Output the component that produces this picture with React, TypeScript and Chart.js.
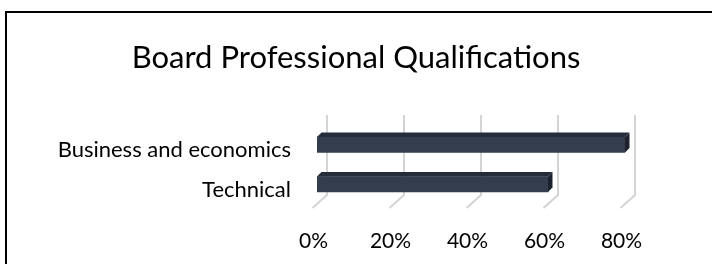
import React, { useEffect, useRef } from "react";
import { Chart, registerables } from "chart.js";

Chart.register(...registerables);

const titleText = "Board Professional Qualifications";
const categories = ["Business and economics", "Technical"];
const values = [80, 60];
const tickValues = [0, 20, 40, 60, 80];

const FONT = "Lato";

const depthPlugin = {
  id: "depth3d",
  beforeDraw(chart: any) {
    const ctx = chart.ctx;
    ctx.save();
    ctx.fillStyle = "#ffffff";
    ctx.fillRect(0, 0, chart.width, chart.height);
    ctx.strokeStyle = "#000000";
    ctx.lineWidth = 2;
    ctx.strokeRect(6, 12, chart.width + 20, chart.height + 20);
    ctx.fillStyle = "#000000";
    ctx.font = `31px ${FONT}`;
    ctx.textAlign = "center";
    ctx.textBaseline = "alphabetic";
    ctx.fillText(titleText, 356, 67.5);
    ctx.restore();
  },
  beforeDatasetsDraw(chart: any) {
    const ctx = chart.ctx;
    const xs = chart.scales.x;
    const area = chart.chartArea;
    ctx.save();
    ctx.strokeStyle = "#d4d4d4";
    ctx.lineWidth = 2;
    tickValues.forEach((v) => {
      const X = xs.getPixelForValue(v);
      ctx.beginPath();
      ctx.moveTo(X + 10, area.top - 10);
      ctx.lineTo(X + 10, area.bottom - 9);
      ctx.lineTo(X - 4.5, area.bottom + 4);
      ctx.stroke();
    });
    ctx.restore();
  },
  afterDatasetsDraw(chart: any) {
    const ctx = chart.ctx;
    const meta = chart.getDatasetMeta(0);
    const d = 4.5;
    ctx.save();
    meta.data.forEach((el: any) => {
      const { x, y, base, height } = el.getProps(["x", "y", "base", "height"], true);
      const top = y - height / 2;
      const bottom = y + height / 2;
      ctx.fillStyle = "#252d3a";
      ctx.beginPath();
      ctx.moveTo(base, top);
      ctx.lineTo(base + d, top - d);
      ctx.lineTo(x + d, top - d);
      ctx.lineTo(x, top);
      ctx.closePath();
      ctx.fill();
      ctx.fillStyle = "#1d232e";
      ctx.beginPath();
      ctx.moveTo(x, top);
      ctx.lineTo(x + d, top - d);
      ctx.lineTo(x + d, bottom - d);
      ctx.lineTo(x, bottom);
      ctx.closePath();
      ctx.fill();
    });
    ctx.restore();
  },
};

export default function App() {
  const ref = useRef<HTMLCanvasElement | null>(null);
  useEffect(() => {
    document.body.style.margin = "0";
    const canvas = ref.current!;
    const chart = new Chart(canvas, {
      type: "bar",
      data: {
        labels: categories,
        datasets: [
          {
            data: values,
            backgroundColor: "#333d4e",
            borderWidth: 0,
            barThickness: 15.5,
          },
        ],
      },
      options: {
        indexAxis: "y",
        animation: false,
        responsive: false,
        maintainAspectRatio: false,
        devicePixelRatio: 1,
        layout: { padding: { top: 125, right: 87, left: 0, bottom: 0 } },
        plugins: {
          legend: { display: false },
          title: { display: false },
          tooltip: { enabled: false },
        },
        scales: {
          x: {
            min: 0,
            max: 80,
            grid: { display: false, drawTicks: false },
            border: { display: false },
            ticks: {
              stepSize: 20,
              callback: (v: any) => v + "%",
              font: { family: FONT, size: 21 },
              color: "#000000",
              padding: 25,
              labelOffset: -3.5,
              maxRotation: 0,
            },
            afterFit: (s: any) => {
              s.height = 60;
            },
          },
          y: {
            grid: { display: false, drawTicks: false },
            border: { display: false },
            ticks: {
              font: { family: FONT, size: 22 },
              color: "#000000",
              padding: 26,
              labelOffset: 5.5,
            },
            afterFit: (s: any) => {
              s.width = 317;
            },
          },
        },
      },
      plugins: [depthPlugin],
    });
    return () => chart.destroy();
  }, []);
  return <canvas ref={ref} width={712} height={264} style={{ display: "block" }} />;
}
